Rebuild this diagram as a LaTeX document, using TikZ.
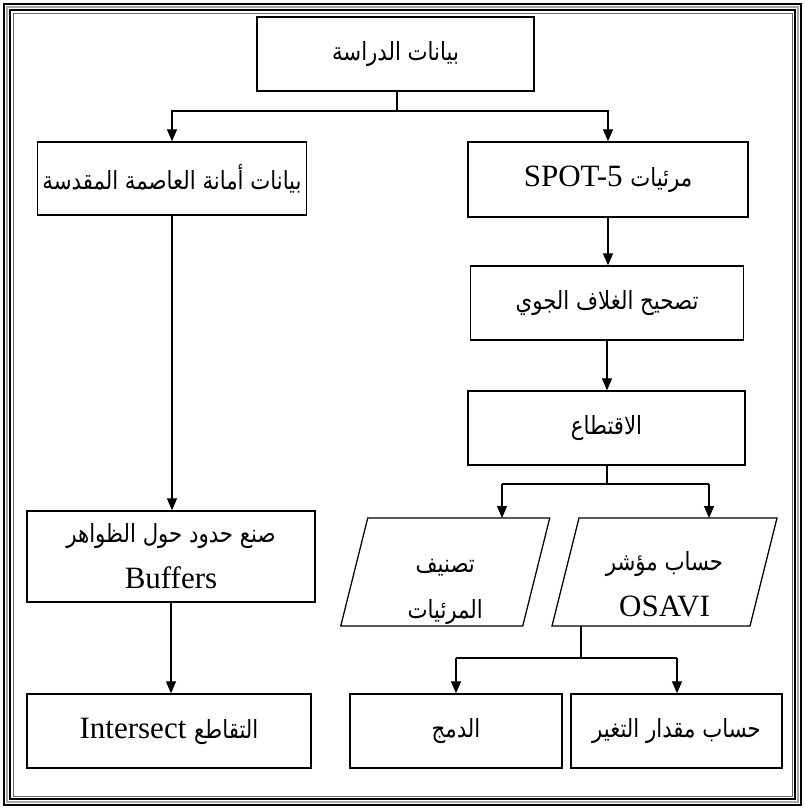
\documentclass[tikz,border=0pt]{standalone}
\usepackage{fontspec}
\setmainfont{Liberation Serif}
\newfontfamily\ar[Script=Arabic,FakeStretch=0.85]{DejaVu Sans}
\TeXXeTstate=1
\usetikzlibrary{arrows.meta,calc}
\newcommand{\AR}[1]{{\ar\fontsize{25}{46}\selectfont\beginR #1\endR}}
\begin{document}
\begin{tikzpicture}[x=1pt,y=-1pt,
  box/.style={draw,line width=1.3pt,minimum width=#1,inner sep=0pt,align=center,font=\fontsize{31}{46}\selectfont},
  arr/.style={line width=1.2pt,-{Triangle[length=12pt,width=10pt]}},
  ln/.style={line width=1.2pt},
  pbox/.style={inner sep=0pt,align=center,font=\fontsize{31}{46}\selectfont},
  pdraw/.style={draw,line width=1.3pt}]
\useasboundingbox (0,0) rectangle (804,808);
% frame
\draw[line width=2.5pt] (4,4) rectangle (801,805);
\draw[line width=1.8pt,gray!70] (7,7) rectangle (798,802);
\draw[line width=1.2pt] (10,10) rectangle (795,799);
\draw[line width=0.7pt,gray!80!black] (13,13) rectangle (792,796);
% nodes
\node[box=277pt,minimum height=74pt] (top) at (395.5,54) {\AR{بيانات الدراسة}};
\node[box=269pt,minimum height=73pt] (left) at (172,178.5) {\AR{بيانات أمانة العاصمة المقدسة}};
\node[box=280pt,minimum height=75pt] (spot) at (608,179.5) {SPOT-5 \AR{مرئيات}};
\node[box=273pt,minimum height=74pt] (tashih) at (607,303) {\AR{تصحيح الغلاف الجوي}};
\node[box=277pt,minimum height=74pt] (iqt) at (606.5,428) {\AR{الاقتطاع}};
\node[box=288pt,minimum height=91pt] (buf) at (171,556.5) {\AR{صنع حدود حول الظواهر}\\Buffers};
\node[box=284pt,minimum height=74pt] (inter) at (169,731) {Intersect \AR{التقاطع}};
\node[box=212pt,minimum height=74pt] (damj) at (456,731) {\AR{الدمج}};
\node[box=211pt,minimum height=74pt] (tagh) at (676.5,731) {\AR{حساب مقدار التغير}};
% parallelograms (text centre slightly below shape centre)
\node[pbox] (cls) at (445.25,592) {\AR{تصنيف}\\\AR{المرئيات}};
\node[pbox] (osavi) at (664.5,584) {\AR{حساب مؤشر}\\OSAVI};
\draw[pdraw] ($(cls.center)+(-77.5,-74)$) -- ($(cls.center)+(104.5,-74)$) -- ($(cls.center)+(77.5,34)$) -- ($(cls.center)+(-104.5,34)$) -- cycle;
\draw[pdraw] ($(osavi.center)+(-85.5,-66)$) -- ($(osavi.center)+(112.5,-66)$) -- ($(osavi.center)+(85.5,42)$) -- ($(osavi.center)+(-112.5,42)$) -- cycle;
\coordinate (clstop) at ($(cls.center)+(0,-74)$);
\coordinate (osatop) at ($(osavi.center)+(0,-66)$);
\coordinate (osabot) at ($(osavi.center)+(0,42)$);
% connectors
\coordinate (j1) at (397,111);
\draw[ln] (top.south -| j1) -- (j1);
\draw[arr] (j1) -| (left.north);
\draw[arr] (j1) -| (spot.north);
\draw[arr] (left.south) -- (left.south |- buf.north);
\draw[arr] (buf.south) -- (buf.south |- inter.north);
\draw[arr] (spot.south) -- (spot.south |- tashih.north);
\draw[arr] (tashih.south) -- (tashih.south |- iqt.north);
\coordinate (j2) at (607,484);
\coordinate (j2l) at (502,484);
\coordinate (j2r) at (709,484);
\draw[ln] (iqt.south -| j2) -- (j2);
\draw[ln] (j2l) -- (j2r);
\draw[arr] (j2l) -- (j2l |- clstop);
\draw[arr] (j2r) -- (j2r |- osatop);
\coordinate (j3) at (581,658);
\coordinate (j3l) at (456,658);
\coordinate (j3r) at (677,658);
\draw[ln] (osabot -| j3) -- (j3);
\draw[ln] (j3l) -- (j3r);
\draw[arr] (j3l) -- (j3l |- damj.north);
\draw[arr] (j3r) -- (j3r |- tagh.north);
\end{tikzpicture}
\end{document}
